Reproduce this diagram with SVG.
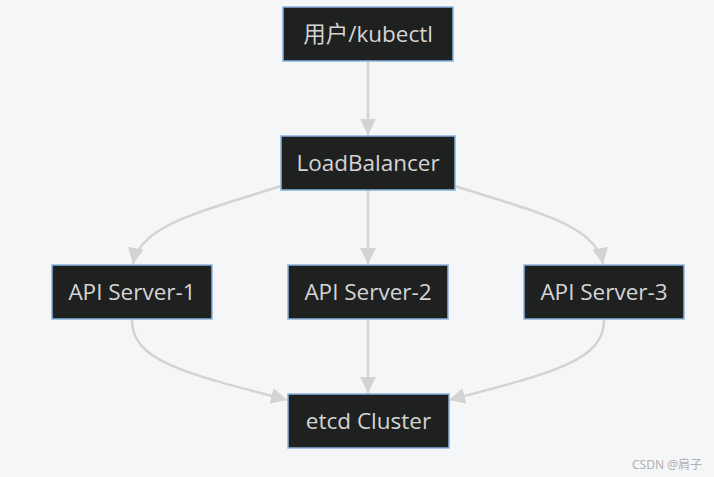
<svg xmlns="http://www.w3.org/2000/svg" width="714" height="477" viewBox="0 0 714 477">
<style>
.node rect{fill:#1f2120;stroke:#89b4de;stroke-width:1.5}
.node text{fill:#d4d4d4;font-family:"Open Sans","Noto Sans","Noto Sans CJK SC",sans-serif;font-size:22.5px;text-anchor:middle;dominant-baseline:central}
.edge{fill:none;stroke:#d3d3d3;stroke-width:2.5}
</style>
<defs>
<marker id="arr" viewBox="0 0 10 10" refX="10" refY="5" markerWidth="16" markerHeight="16" markerUnits="userSpaceOnUse" orient="auto">
<path d="M0,0 L10,5 L0,10 z" fill="#d3d3d3"/>
</marker>
</defs>
<rect width="714" height="477" fill="#f5f6f8"/>
<g id="connectors">
<path class="edge" d="M368,62 L368,135" marker-end="url(#arr)"/>
<path class="edge" d="M368,191 L368,264" marker-end="url(#arr)"/>
<path class="edge" d="M281,186 C200,212 140,225 133,264" marker-end="url(#arr)"/>
<path class="edge" d="M455,186 C536,212 596,225 603,264" marker-end="url(#arr)"/>
<path class="edge" d="M368,320 L368,393" marker-end="url(#arr)"/>
<path class="edge" d="M132,320 C132,360 180,372 287,400" marker-end="url(#arr)"/>
<path class="edge" d="M604,320 C604,360 556,372 449,400" marker-end="url(#arr)"/>
</g>
<g id="n-user" class="node"><rect x="283" y="7" width="170" height="54"/><text x="368" y="33">用户/kubectl</text></g>
<g id="n-lb" class="node"><rect x="281" y="136" width="174" height="54"/><text x="368" y="162">LoadBalancer</text></g>
<g id="n-api1" class="node"><rect x="52" y="265" width="160" height="54"/><text x="132" y="291">API Server-1</text></g>
<g id="n-api2" class="node"><rect x="288" y="265" width="160" height="54"/><text x="368" y="291">API Server-2</text></g>
<g id="n-api3" class="node"><rect x="524" y="265" width="160" height="54"/><text x="604" y="291">API Server-3</text></g>
<g id="n-etcd" class="node"><rect x="288" y="394" width="161" height="54"/><text x="368.5" y="420">etcd Cluster</text></g>
<text x="632" y="469" font-family="'Noto Sans','Noto Sans CJK SC',sans-serif" font-size="12" fill="#b0b0b0">CSDN @肩子</text>
</svg>
